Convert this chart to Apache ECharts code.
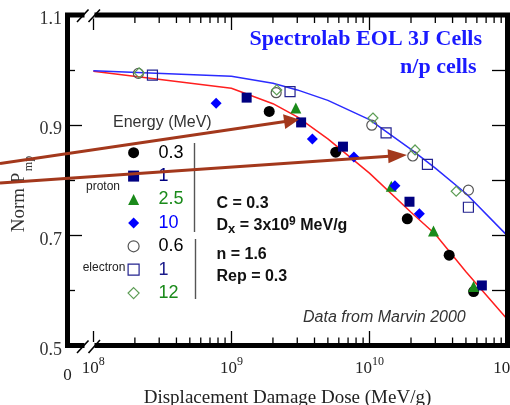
<!DOCTYPE html>
<html>
<head>
<meta charset="utf-8">
<script src="https://cdn.jsdelivr.net/npm/echarts@6/dist/echarts.min.js"></script>
<style>
  html, body { margin: 0; padding: 0; background: #fff; }
  #chart { width: 510px; height: 405px; }
</style>
</head>
<body>
<div id="chart"></div>
<script>
// Normalized Pmp of Spectrolab 3J cells versus displacement damage dose (MeV/g)

// Proton irradiations (energy in MeV)
const p03Dose = [1.88e9, 5.7e9, 1.88e10, 3.78e10, 5.68e10];
const p03Pmp  = [0.925, 0.851, 0.730, 0.664, 0.598];
const p1Dose  = [1.29e9, 3.2e9, 6.43e9, 1.95e10, 6.52e10];
const p1Pmp   = [0.950, 0.905, 0.861, 0.761, 0.609];
const p25Dose = [2.93e9, 1.44e10, 2.91e10, 5.68e10];
const p25Pmp  = [0.931, 0.789, 0.708, 0.607];
const p10Dose = [7.75e8, 3.86e9, 7.71e9, 1.53e10, 2.30e10];
const p10Pmp  = [0.940, 0.875, 0.842, 0.790, 0.739];

// Electron irradiations (energy in MeV)
const e06Dose = [2.12e8, 2.11e9, 1.04e10, 2.06e10, 5.21e10];
const e06Pmp  = [0.994, 0.959, 0.900, 0.844, 0.782];
const e1Dose  = [2.68e8, 2.66e9, 1.32e10, 2.63e10, 5.21e10];
const e1Pmp   = [0.991, 0.961, 0.886, 0.829, 0.751];
const e12Dose = [2.15e8, 2.13e9, 1.06e10, 2.14e10, 4.25e10];
const e12Pmp  = [0.995, 0.964, 0.913, 0.855, 0.780];

// Characteristic degradation curves
const fitDose     = [1e8, 1e9, 2e9, 3e9, 5e9, 1e10, 2e10, 3e10, 5e10, 1e11];
const protonFit   = [0.998, 0.967, 0.939, 0.915, 0.875, 0.813, 0.742, 0.702, 0.634, 0.547];
const electronFit = [0.999, 0.989, 0.976, 0.964, 0.945, 0.910, 0.856, 0.822, 0.776, 0.699];

// Axis ranges and tick values
const X_MIN = 6.5e7, X_MAX = 1e11;
const Y_MIN = 0.5, Y_MAX = 1.1;
const minorTickDoses = [
  2e8, 3e8, 4e8, 5e8, 6e8, 7e8, 8e8, 9e8,
  2e9, 3e9, 4e9, 5e9, 6e9, 7e9, 8e9, 9e9,
  2e10, 3e10, 4e10, 5e10, 6e10, 7e10, 8e10, 9e10
];

// Legend entries: series name, shown label
const legendNames  = ['proton 0.3', 'proton 1', 'proton 2.5', 'proton 10', 'electron 0.6', 'electron 1', 'electron 12'];
const legendLabels = ['0.3', '1', '2.5', '10', '0.6', '1', '12'];

const SERIF = "'Liberation Serif', 'Times New Roman', serif";
const SANS = "'Liberation Sans', Arial, sans-serif";

// plot frame in pixels
const GL = 67.5, GT = 15, GR = 507.5, GB = 345.5;
const W = 510, H = 405;

const NAVY = '#000080', GREEN = '#1a8a1a', BLUE = '#0000ff';
const OPEN_GREY = '#555555', OPEN_NAVY = '#23238f', OPEN_GREEN = '#5d9d55';
const ARROW = '#a3381c';

function pairs(xs, ys) { return xs.map((x, i) => [x, ys[i]]); }

const filled = (name, symbol, size, color, xs, ys) => ({
  name, type: 'scatter', symbol, symbolSize: size, z: 5,
  itemStyle: { color, opacity: 1 },
  data: pairs(xs, ys)
});
const hollow = (name, symbol, size, color, xs, ys) => ({
  name, type: 'scatter', symbol, symbolSize: size, z: 5,
  itemStyle: { color: 'rgba(0,0,0,0)', borderColor: color, borderWidth: 1.2, opacity: 1 },
  data: pairs(xs, ys)
});

const legendColors = ['#000', NAVY, GREEN, BLUE, '#000', '#1a1a8a', GREEN];
const legendStyles = [
  { icon: 'circle', itemStyle: { color: '#000' } },
  { icon: 'rect', itemStyle: { color: NAVY } },
  { icon: 'triangle', itemStyle: { color: GREEN } },
  { icon: 'diamond', itemStyle: { color: BLUE } },
  { icon: 'circle', itemStyle: { color: 'rgba(0,0,0,0)', borderColor: OPEN_GREY, borderWidth: 1.2 } },
  { icon: 'rect', itemStyle: { color: 'rgba(0,0,0,0)', borderColor: OPEN_NAVY, borderWidth: 1.2 } },
  { icon: 'diamond', itemStyle: { color: 'rgba(0,0,0,0)', borderColor: OPEN_GREEN, borderWidth: 1.2 } }
];

function arrow(x0, y0, x1, y1, headLen, headHalf) {
  const dx = x1 - x0, dy = y1 - y0, len = Math.hypot(dx, dy);
  const ux = dx / len, uy = dy / len;
  const bx = x1 - ux * headLen, by = y1 - uy * headLen;
  return [
    { type: 'line', z: 30, shape: { x1: x0, y1: y0, x2: bx + ux, y2: by + uy },
      style: { stroke: ARROW, lineWidth: 3 } },
    { type: 'polygon', z: 30,
      shape: { points: [[x1, y1], [bx - uy * headHalf, by + ux * headHalf], [bx + uy * headHalf, by - ux * headHalf]] },
      style: { fill: ARROW } }
  ];
}

const chart = echarts.init(document.getElementById('chart'), null, { renderer: 'canvas' });

const option = {
  animation: false,
  backgroundColor: '#fff',
  grid: { left: GL, top: GT, right: W - GR, bottom: H - GB, show: false, containLabel: false, outerBoundsMode: 'none' },
  xAxis: [
    {
      type: 'log', min: X_MIN, max: X_MAX, position: 'bottom',
      axisLine: { show: false },
      axisTick: { show: true, inside: true, length: 14.5, lineStyle: { color: '#000', width: 1.3 } },
      splitLine: { show: false },
      axisLabel: {
        show: true, margin: 10, showMinLabel: true, showMaxLabel: true,
        formatter: (v) => {
          const e = Math.log10(v);
          if (Math.abs(e - Math.round(e)) < 1e-6) return '{b|10}{s|' + Math.round(e) + '}';
          if (Math.abs(v - X_MIN) / X_MIN < 1e-6) return '{z|0}';
          return '';
        },
        rich: {
          b: { fontFamily: SERIF, fontSize: 17, lineHeight: 26, color: '#222' },
          s: { fontFamily: SERIF, fontSize: 12, lineHeight: 10, verticalAlign: 'top', color: '#222' },
          z: { fontFamily: SERIF, fontSize: 17, lineHeight: 26, color: '#222', padding: [14, 0, 0, 0] }
        }
      },
      name: 'Displacement Damage Dose (MeV/g)',
      nameLocation: 'middle', nameGap: 42,
      nameTextStyle: { fontFamily: SERIF, fontSize: 19, color: '#222' }
    },
    {
      type: 'log', min: X_MIN, max: X_MAX, position: 'top',
      axisLine: { show: false },
      axisTick: { show: true, inside: true, length: 15, lineStyle: { color: '#000', width: 1.3 } },
      axisLabel: { show: false },
      splitLine: { show: false }
    }
  ],
  yAxis: [
    {
      type: 'value', min: Y_MIN, max: Y_MAX, interval: 0.2, position: 'left',
      axisLine: { show: false },
      axisTick: { show: true, inside: true, length: 14.5, lineStyle: { color: '#000', width: 1.3 } },
      minorTick: { show: true, splitNumber: 2, length: 7.5, lineStyle: { color: '#000', width: 1.3 } },
      splitLine: { show: false },
      axisLabel: {
        margin: 5.5,
        formatter: (v) => '{v|' + v.toFixed(1) + '}',
        rich: {
          v: { fontFamily: SERIF, fontSize: 18, color: '#333', padding: [9, 0, 0, 0] }
        }
      }
    },
    {
      type: 'value', min: Y_MIN, max: Y_MAX, interval: 0.1, position: 'right',
      axisLine: { show: false },
      axisTick: { show: true, inside: true, length: 15.5, lineStyle: { color: '#000', width: 1.3 } },
      splitLine: { show: false },
      axisLabel: { show: false }
    }
  ],
  legend: {
    orient: 'vertical', left: 127.5, top: 143.7, padding: 0,
    itemWidth: 11, itemHeight: 11, itemGap: 5.4,
    selectedMode: false,
    textStyle: { fontFamily: SANS, fontSize: 18, lineHeight: 18, padding: [0, 0, 0, 14.5] },
    formatter: (name) => legendLabels[legendNames.indexOf(name)],
    data: legendNames.map((n, i) => Object.assign({ name: n, textStyle: { color: legendColors[i] } }, legendStyles[i]))
  },
  series: [
    {
      name: 'proton curve', type: 'line', z: 3, showSymbol: false, symbol: 'none',
      lineStyle: { color: '#ff1f1f', width: 1.5 },
      data: pairs(fitDose, protonFit)
    },
    {
      name: 'electron curve', type: 'line', z: 3, showSymbol: false, symbol: 'none',
      lineStyle: { color: '#2b2bff', width: 1.5 },
      data: pairs(fitDose, electronFit)
    },
    filled('proton 0.3', 'circle', 11, '#000', p03Dose, p03Pmp),
    filled('proton 1', 'rect', 10, NAVY, p1Dose, p1Pmp),
    filled('proton 2.5', 'triangle', 11, GREEN, p25Dose, p25Pmp),
    filled('proton 10', 'diamond', 11, BLUE, p10Dose, p10Pmp),
    hollow('electron 0.6', 'circle', 10, OPEN_GREY, e06Dose, e06Pmp),
    hollow('electron 1', 'rect', 10, OPEN_NAVY, e1Dose, e1Pmp),
    hollow('electron 12', 'diamond', 10, OPEN_GREEN, e12Dose, e12Pmp),
    {
      name: 'minor ticks', type: 'custom', silent: true, clip: false, z: 4,
      data: minorTickDoses.map(d => [d, Y_MIN]),
      encode: { x: 0, y: 1 },
      renderItem: (params, api) => {
        const bottom = api.coord([api.value(0), Y_MIN]);
        const top = api.coord([api.value(0), Y_MAX]);
        const st = { stroke: '#000', lineWidth: 1.3 };
        return {
          type: 'group',
          children: [
            { type: 'line', shape: { x1: bottom[0], y1: bottom[1], x2: bottom[0], y2: bottom[1] - 8 }, style: st },
            { type: 'line', shape: { x1: top[0], y1: top[1], x2: top[0], y2: top[1] + 8 }, style: st }
          ]
        };
      }
    }
  ],
  graphic: {
    elements: [
      // frame
      { type: 'rect', z: 10, shape: { x: GL, y: GT, width: GR - GL, height: GB - GT },
        style: { fill: 'none', stroke: '#000', lineWidth: 5 } },
      // axis break gaps on the dose axis
      { type: 'rect', z: 11, shape: { x: 84.5, y: GT - 3.5, width: 10, height: 7 }, style: { fill: '#fff' } },
      { type: 'rect', z: 11, shape: { x: 84.5, y: GB - 3.5, width: 10, height: 7 }, style: { fill: '#fff' } },
      { type: 'line', z: 12, shape: { x1: 77, y1: GT + 7, x2: 88.5, y2: GT - 5.5 }, style: { stroke: '#000', lineWidth: 1.6 } },
      { type: 'line', z: 12, shape: { x1: 88.5, y1: GT + 7, x2: 100, y2: GT - 5.5 }, style: { stroke: '#000', lineWidth: 1.6 } },
      { type: 'line', z: 12, shape: { x1: 77, y1: GB + 7.5, x2: 88.5, y2: GB - 5 }, style: { stroke: '#000', lineWidth: 1.6 } },
      { type: 'line', z: 12, shape: { x1: 88.5, y1: GB + 7.5, x2: 100, y2: GB - 5.5 }, style: { stroke: '#000', lineWidth: 1.6 } },

      // y-axis title
      { type: 'text', z: 20, x: 19, y: 202.5, rotation: Math.PI / 2,
        style: { text: 'Norm P', font: '19px ' + SERIF, fill: '#333', align: 'center', verticalAlign: 'middle' } },
      { type: 'text', z: 20, x: 29.2, y: 163.5, rotation: Math.PI / 2,
        style: { text: 'mp', font: '12px ' + SERIF, fill: '#333', align: 'center', verticalAlign: 'middle' } },

      // heading
      { type: 'text', z: 20, x: 482, y: 40, scaleX: 1.1,
        style: { text: 'Spectrolab EOL 3J Cells', font: 'bold 20px ' + SERIF, fill: '#1a1aff', align: 'right', verticalAlign: 'middle' } },
      { type: 'text', z: 20, x: 476.5, y: 68, scaleX: 1.1,
        style: { text: 'n/p cells', font: 'bold 20px ' + SERIF, fill: '#1a1aff', align: 'right', verticalAlign: 'middle' } },

      // legend heading and groups
      { type: 'text', z: 20, x: 113, y: 123,
        style: { text: 'Energy (MeV)', font: '16px ' + SANS, fill: '#333', align: 'left', verticalAlign: 'middle' } },
      { type: 'text', z: 20, x: 103, y: 187,
        style: { text: 'proton', font: '12px ' + SANS, fill: '#222', align: 'center', verticalAlign: 'middle' } },
      { type: 'text', z: 20, x: 104, y: 268,
        style: { text: 'electron', font: '12px ' + SANS, fill: '#222', align: 'center', verticalAlign: 'middle' } },
      { type: 'line', z: 20, shape: { x1: 194.5, y1: 143, x2: 194.5, y2: 232 }, style: { stroke: '#555', lineWidth: 1.4 } },
      { type: 'line', z: 20, shape: { x1: 195.5, y1: 239, x2: 195.5, y2: 299 }, style: { stroke: '#555', lineWidth: 1.4 } },

      // model parameters
      { type: 'text', z: 20, x: 216.5, y: 204,
        style: { text: 'C = 0.3', font: 'bold 16px ' + SANS, fill: '#111', align: 'left', verticalAlign: 'middle' } },
      { type: 'text', z: 20, x: 216.5, y: 226,
        style: {
          text: '{m|D}{sub|x}{m| = 3x10}{sup|9}{m| MeV/g}',
          align: 'left', verticalAlign: 'middle',
          rich: {
            m: { fontFamily: SANS, fontWeight: 'bold', fontSize: 16, lineHeight: 20, fill: '#111' },
            sub: { fontFamily: SANS, fontWeight: 'bold', fontSize: 13, lineHeight: 9, verticalAlign: 'bottom', fill: '#111' },
            sup: { fontFamily: SANS, fontWeight: 'bold', fontSize: 12, lineHeight: 10, verticalAlign: 'top', fill: '#111' }
          }
        } },
      { type: 'text', z: 20, x: 216.5, y: 255,
        style: { text: 'n = 1.6', font: 'bold 16px ' + SANS, fill: '#111', align: 'left', verticalAlign: 'middle' } },
      { type: 'text', z: 20, x: 216.5, y: 277,
        style: { text: 'Rep = 0.3', font: 'bold 16px ' + SANS, fill: '#111', align: 'left', verticalAlign: 'middle' } },

      // source note
      { type: 'text', z: 20, x: 303, y: 318,
        style: { text: 'Data from Marvin 2000', font: 'italic 16px ' + SANS, fill: '#333', align: 'left', verticalAlign: 'middle' } },

      // arrows pointing from the legend side towards the two curves
      ...arrow(0, 163.5, 299, 119.5, 15, 7.5),
      ...arrow(0, 183, 407, 155, 19, 7)
    ]
  }
};

chart.setOption(option);
</script>
</body>
</html>
